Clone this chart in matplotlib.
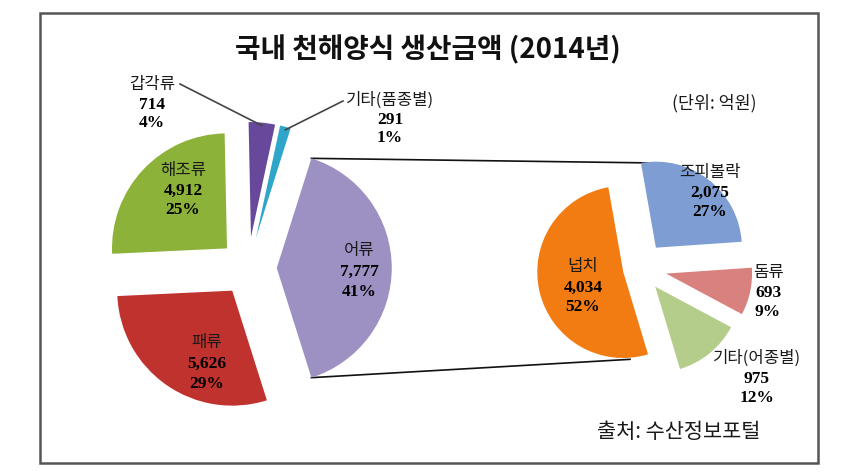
import numpy as np
import matplotlib.pyplot as plt
from matplotlib.patches import Rectangle

plt.rcParams['font.family'] = ['Noto Sans CJK KR', 'DejaVu Sans']

W, H = 851, 475

# 주 원형 (천해양식 품목별)
main_names = ['어류', '기타(품종별)', '갑각류', '해조류', '패류']
main_values = [7777, 291, 714, 4912, 5626]
main_pcts = ['41%', '1%', '4%', '25%', '29%']
main_colors = ['#9d90c2', '#2fa6c9', '#68489a', '#8cb23a', '#c0322e']

# 보조 원형 (어류 어종별)
sub_names = ['조피볼락', '돔류', '기타(어종별)', '넙치']
sub_values = [2075, 693, 975, 4034]
sub_pcts = ['27%', '9%', '12%', '52%']
sub_colors = ['#7e9dd2', '#d9817f', '#b5cd8a', '#f27c12']


def py(y):
    return H - y


fig = plt.figure(figsize=(W / 100, H / 100), dpi=100)
ax = fig.add_axes([0, 0, 1, 1])

R1, R2 = 115, 86
start = -main_values[0] / sum(main_values) * 180
main_w, _ = ax.pie(main_values, colors=main_colors, startangle=start, counterclock=True,
                   radius=R1, center=(248, py(268)),
                   explode=[e * R1 for e in [0.25, 0.27, 0.27, 0.25, 0.24]],
                   frame=True, wedgeprops=dict(linewidth=0))
sub_w, _ = ax.pie(sub_values, colors=sub_colors, startangle=100, counterclock=False,
                  radius=R2, center=(640, py(268)),
                  explode=[e * R2 for e in [0.3, 0.31, 0.28, 0.2]],
                  frame=True, wedgeprops=dict(linewidth=0))


def corner(w, ang):
    a = np.deg2rad(ang)
    return w.center[0] + w.r * np.cos(a), w.center[1] + w.r * np.sin(a)


# 연결선
fish = main_w[0]
p1 = corner(fish, fish.theta2)
p2 = corner(sub_w[0], sub_w[0].theta2)
ax.plot([p1[0], p2[0] + 14], [p1[1], p2[1]], color='#111111', lw=1.2, zorder=0)
p1 = corner(fish, fish.theta1)
p2 = corner(sub_w[3], sub_w[3].theta2)
ax.plot([p1[0], p2[0] - 18], [p1[1], p2[1] - 5], color='#111111', lw=1.2, zorder=0)

# 지시선
for i, (lx, ly) in zip([2, 1], [(180, 84), (343, 101)]):
    w = main_w[i]
    t = corner(w, (w.theta1 + w.theta2) / 2)
    ax.plot([lx, t[0]], [py(ly), t[1] - 3], color='#444444', lw=1.2)

main_pos = [(359, 250), (390, 100), (152, 85), (183, 170), (207, 342)]
main_gap = [21, 19, 19, 20, 21]
sub_pos = [(710, 172), (768, 272), (757, 358), (583, 267)]
sub_gap = [20, 20, 20, 20]


def label(x, y, name, val, pct, gap):
    ax.text(x, py(y), name, ha='center', va='center', fontsize=12, color='#1a1a1a')
    ax.text(x, py(y + gap + 1), f'{val:,}', ha='center', va='center', fontsize=12.5,
            family='Liberation Serif', fontweight='bold', color='black')
    ax.text(x, py(y + 2 * gap), pct, ha='center', va='center', fontsize=12.5,
            family='Liberation Serif', fontweight='bold', color='black')


for (x, y), n, v, p, g in zip(main_pos, main_names, main_values, main_pcts, main_gap):
    label(x, y, n, v, p, g)
for (x, y), n, v, p, g in zip(sub_pos, sub_names, sub_values, sub_pcts, sub_gap):
    label(x, y, n, v, p, g)

ax.text(428, py(50), '국내 천해양식 생산금액 (2014년)', ha='center', va='center',
        fontsize=20, fontweight='bold', color='#111111')
ax.text(714, py(103), '(단위: 억원)', ha='center', va='center', fontsize=12.5, color='#1a1a1a')
ax.text(679, py(432), '출처: 수산정보포털', ha='center', va='center', fontsize=15, color='#1a1a1a')

ax.add_patch(Rectangle((40, py(463)), 778, 450, fill=False, edgecolor='#555555', lw=1.8))

ax.set_xlim(0, W)
ax.set_ylim(0, H)
ax.axis('off')
fig.savefig('out.png', dpi=100)
